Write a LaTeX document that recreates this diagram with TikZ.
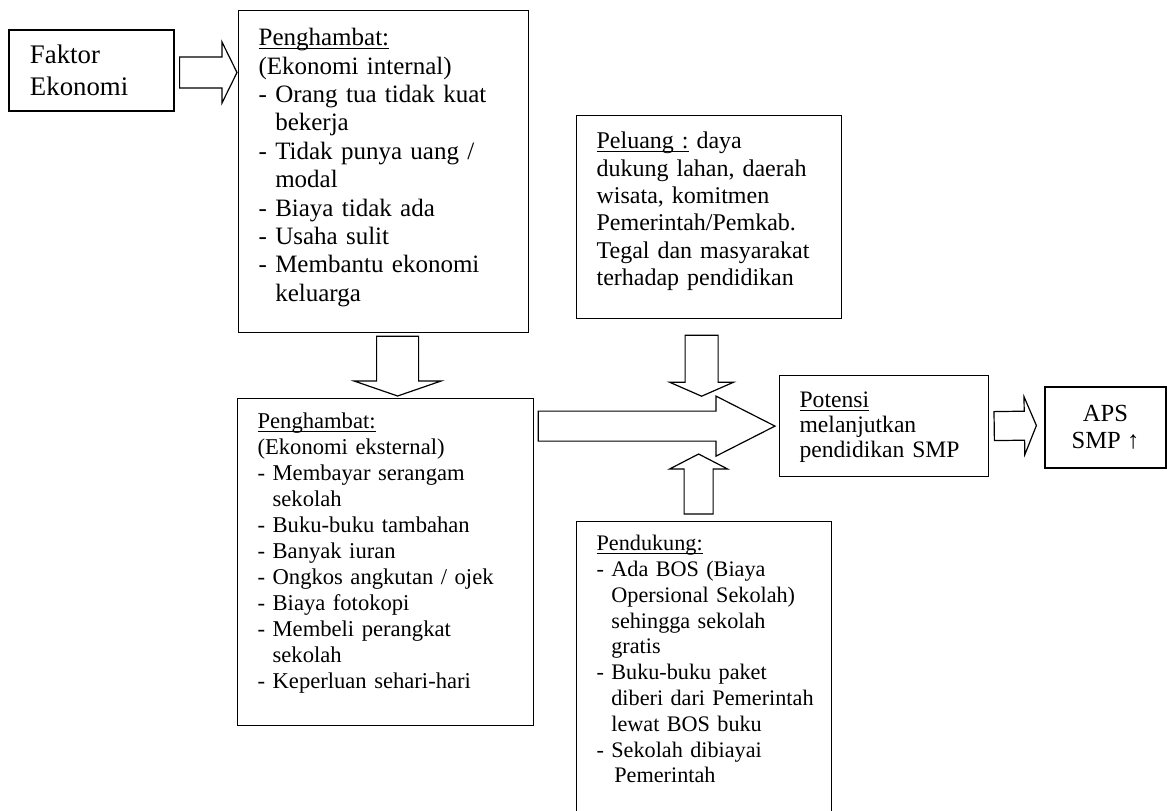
\documentclass[tikz,border=0pt]{standalone}
\usepackage{fontspec}
\setmainfont{Liberation Serif}
\usetikzlibrary{calc}

\newcommand{\ind}{\hphantom{-\ }}
\newcommand{\undl}[1]{\setbox0=\hbox{#1}\rlap{\rule[-1.8pt]{\wd0}{0.5pt}}\box0\relax}
% hollow block arrow: tail, tip, shaft half width, head half width, head length (px)
\newcommand{\blockarrow}[5]{%
  \coordinate (ba) at ($(#2)!#5*0.5pt!(#1)$);
  \draw[bigarrow] ($(#1)!#3*0.5pt!90:(#2)$) -- ($(ba)!#3*0.5pt!90:(#2)$)
    -- ($(ba)!#4*0.5pt!90:(#2)$) -- (#2) -- ($(ba)!#4*0.5pt!-90:(#2)$)
    -- ($(ba)!#3*0.5pt!-90:(#2)$) -- ($(#1)!#3*0.5pt!-90:(#2)$) -- cycle;
}

\begin{document}
\begin{tikzpicture}[
  x=0.5pt, y=-0.5pt,                        % one unit = one pixel of the layout
  box/.style      = {draw, line width=0.6pt,
                     anchor=north west,
                     inner xsep=10pt, inner ysep=0pt,
                     align=left},
  cbox/.style     = {draw, line width=0.6pt,
                     inner sep=0pt},
  bigarrow/.style = {draw, line width=0.6pt, fill=white}
]
\clip (0,0) rectangle (1168,810);

\node[cbox, minimum width=82.5pt, minimum height=40.5pt, text width=61.5pt,
      align=left, font=\fontsize{13.4}{16}\selectfont] (faktor) at (91.5,70.5)
  {Faktor\\Ekonomi};

\node[box, text width=125pt, text height=17.5pt, text depth=143.5pt,
      font=\fontsize{12.5}{14.2}\selectfont] (internal) at (238,10)
  {\undl{Penghambat:}\\
   (Ekonomi internal)\\
   - Orang tua tidak kuat\\
   \ind bekerja\\
   - Tidak punya uang /\\
   \ind modal\\
   - Biaya tidak ada\\
   - Usaha sulit\\
   - Membantu ekonomi\\
   \ind keluarga};

\node[box, text width=128pt, text height=14.85pt, text depth=148.6pt,
      font=\fontsize{11.3}{13}\selectfont] (external) at (237,398)
  {\undl{Penghambat:}\\
   (Ekonomi eksternal)\\
   - Membayar serangam\\
   \ind sekolah\\
   - Buku-buku tambahan\\
   - Banyak iuran\\
   - Ongkos angkutan / ojek\\
   - Biaya fotokopi\\
   - Membeli perangkat\\
   \ind sekolah\\
   - Keperluan sehari-hari};

\node[box, text width=112.5pt, text height=16.5pt, text depth=85pt,
      font=\fontsize{12}{13.7}\selectfont] (peluang) at (576,115)
  {\undl{Peluang :} daya\\
   dukung lahan, daerah\\
   wisata, komitmen\\
   Pemerintah/Pemkab.\\
   \mbox{Tegal dan masyarakat}\\
   terhadap pendidikan};

\node[box, text width=107.5pt, text height=14.5pt, text depth=140pt,
      font=\fontsize{11.1}{12.9}\selectfont] (pendukung) at (576,521)
  {\undl{Pendukung:}\\
   - Ada BOS (Biaya\\
   \mbox{\ind Opersional Sekolah)}\\
   \ind sehingga sekolah\\
   \ind gratis\\
   - Buku-buku paket\\
   \mbox{\ind diberi dari Pemerintah}\\
   \ind lewat BOS buku\\
   - Sekolah dibiayai\\
   \ind\hspace{1.5pt}Pemerintah};

\node[box, text width=84.5pt, text height=15.85pt, text depth=34.65pt,
      font=\fontsize{11.8}{12.5}\selectfont] (potensi) at (779,375)
  {\undl{Potensi}\\
   melanjutkan\\
   pendidikan SMP};

\node[cbox, minimum width=60.5pt, minimum height=40.5pt, align=center,
      font=\fontsize{12.3}{13.5}\selectfont] (aps) at (1105.5,427.5)
  {APS\\SMP ↑};

% arrow ends
\coordinate (a1t) at ($(faktor.east)+(5,2)$);
\coordinate (a1h) at ($(faktor.east -| internal.west)+(-1,2)$);
\coordinate (a2t) at ($(internal.south)+(14,3)$);
\coordinate (a2h) at ($(external.north)+(12,-2)$);
\coordinate (a3t) at ($(peluang.south)+(-7.5,16)$);
\coordinate (a3h) at ($(peluang.south)+(-7.5,77)$);
\coordinate (a4t) at ($(external.east |- potensi.west)+(4,0)$);
\coordinate (a4h) at ($(potensi.west)+(-4,0)$);
\coordinate (a5t) at ($(pendukung.north)+(-5.5,-7)$);
\coordinate (a5h) at ($(pendukung.north)+(-5.5,-67)$);
\coordinate (a6t) at ($(potensi.east)+(5,0)$);
\coordinate (a6h) at ($(aps.west)+(-8,-2)$);

\blockarrow{a1t}{a1h}{15.5}{30.5}{15}
\blockarrow{a2t}{a2h}{21}{43.5}{15}
\blockarrow{a3t}{a3h}{16.5}{32}{14}
\blockarrow{a4t}{a4h}{15}{30}{59}
\blockarrow{a5t}{a5h}{14.5}{29}{15}
\blockarrow{a6t}{a6h}{14.5}{29}{12}

\end{tikzpicture}
\end{document}
